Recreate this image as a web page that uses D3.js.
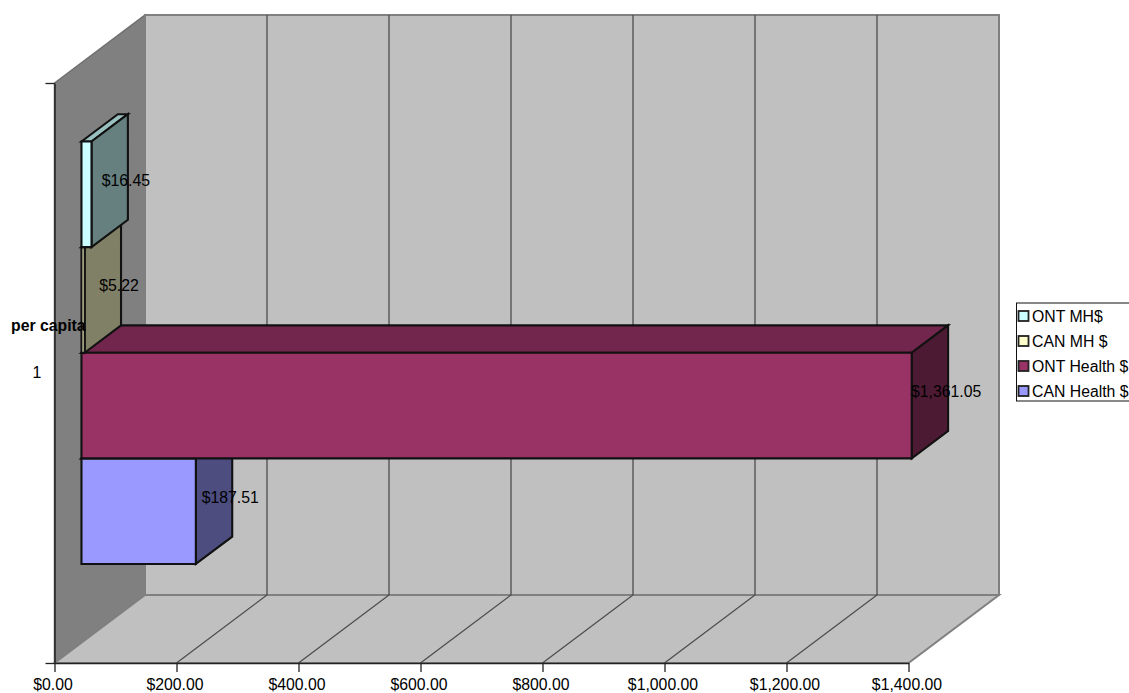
<!DOCTYPE html>
<html>
<head>
<meta charset="utf-8">
<script src="https://cdn.jsdelivr.net/npm/d3@7"></script>
<style>
body { margin: 0; background: #fff; }
svg { display: block; }
text { font-family: "Liberation Sans", Arial, sans-serif; font-size: 15.8px; fill: #000; }
</style>
</head>
<body>
<svg class="chart" width="1129" height="693"></svg>
<script>
// drawn bottom to top so the overlaps come out right
var seriesNames = ["CAN Health $", "ONT Health $", "CAN MH $", "ONT MH$"];
var seriesValues = [187.51, 1361.05, 5.22, 16.45];
var seriesLabels = ["$187.51", "$1,361.05", "$5.22", "$16.45"];
var seriesColors = ["#9999ff", "#993366", "#ffffcc", "#ccffff"];
var legendOrder = ["ONT MH$", "CAN MH $", "ONT Health $", "CAN Health $"];
var xTicks = [0, 200, 400, 600, 800, 1000, 1200, 1400];
var xTickLabels = ["$0.00", "$200.00", "$400.00", "$600.00", "$800.00", "$1,000.00", "$1,200.00", "$1,400.00"];
var categoryName = "per capita";
var categories = ["1"];

var depthX = 90.5, depthY = 68;
var floorY = 663, topY = 83;
var barStart = 0.298, barEnd = 0.7; // position of the bars in the chart depth

var svg = d3.select(".chart");

var x = d3.scaleLinear().domain([0, 1400]).range([54.5, 908.5]);
var y = d3.scaleBand().domain(seriesNames.slice().reverse()).range([topY, floorY])
	.paddingInner(0).paddingOuter(0.746);
var yAxisScale = d3.scaleLinear().domain([0, 1]).range([floorY, topY]);

var line = d3.line();
function poly(points, fill, stroke, width) {
	return svg.append("path")
		.attr("d", line(points) + "Z")
		.attr("fill", fill)
		.attr("stroke", stroke)
		.attr("stroke-width", width)
		.attr("stroke-linejoin", "miter");
}

var x0 = x(0), x1 = x(1400);

// side wall, back wall, floor
poly([[x0, floorY], [x0 + depthX, floorY - depthY], [x0 + depthX, topY - depthY], [x0, topY]], "#808080", "#6e6e6e", 1.5);
poly([[x0 + depthX, floorY - depthY], [x1 + depthX, floorY - depthY], [x1 + depthX, topY - depthY], [x0 + depthX, topY - depthY]], "#c0c0c0", "#808080", 2);
poly([[x0, floorY], [x1, floorY], [x1 + depthX, floorY - depthY], [x0 + depthX, floorY - depthY]], "#c0c0c0", "#808080", 2);

// gridlines
var gridValues = xTicks.slice(1, -1);
svg.append("g").selectAll("path").data(gridValues).join("path")
	.attr("d", function(d) {
		return line([[x(d), floorY], [x(d) + depthX, floorY - depthY], [x(d) + depthX, topY - depthY]]);
	})
	.attr("fill", "none")
	.attr("stroke", "#4d4d4d")
	.attr("stroke-width", 1.3);

// axes
var xAxis = d3.axisBottom(x)
	.tickValues(xTicks)
	.tickSize(9)
	.tickSizeOuter(0)
	.tickFormat(function(d, i) { return xTickLabels[i]; });
var xg = svg.append("g").attr("transform", "translate(0," + floorY + ")").call(xAxis);
xg.selectAll("text").attr("dy", 0).attr("x", -2).attr("y", 26.5);
xg.attr("font-size", null).attr("font-family", null);

var yAxis = d3.axisLeft(yAxisScale).tickValues([0, 1]).tickSize(9).tickSizeOuter(0).tickFormat("");
svg.append("g").attr("transform", "translate(" + x0 + ",0)").call(yAxis);
svg.selectAll(".domain").attr("stroke", "#222").attr("stroke-width", 1.5);
svg.selectAll(".tick line").attr("stroke", "#222").attr("stroke-width", 1.3);

// bars
function shade(color, k) {
	var c = d3.rgb(color);
	return d3.rgb(c.r * k, c.g * k, c.b * k).formatHex();
}

var barBaseX = x0 + barStart * depthX;
var barDX = (barEnd - barStart) * depthX;
var barDY = (barEnd - barStart) * depthY;
var shiftY = barStart * depthY;
var w = 2.1;

seriesNames.forEach(function(name, i) {
	var left = barBaseX;
	var right = barBaseX + x(seriesValues[i]) - x0;
	var top = y(name) - shiftY;
	var bottom = top + y.bandwidth();
	var color = seriesColors[i];
	poly([[left, top], [left + barDX, top - barDY], [right + barDX, top - barDY], [right, top]], shade(color, 0.75), "#111", w);
	poly([[right, top], [right + barDX, top - barDY], [right + barDX, bottom - barDY], [right, bottom]], shade(color, 0.5), "#111", w);
	poly([[left, top], [right, top], [right, bottom], [left, bottom]], color, "#111", w);
});

// value labels go on top of all the bars
seriesNames.forEach(function(name, i) {
	var right = barBaseX + x(seriesValues[i]) - x0;
	svg.append("text")
		.attr("x", right + barDX - 2)
		.attr("y", y(name) - shiftY + y.bandwidth() / 2 - barDY / 2 - 0.5)
		.attr("dy", "0.35em")
		.attr("text-anchor", "middle")
		.text(seriesLabels[i]);
});

// category labels
svg.append("text").attr("x", 11).attr("y", 331)
	.style("font-weight", "bold").text(categoryName);
svg.append("text").attr("x", 37).attr("y", 378).attr("text-anchor", "middle").text(categories[0]);

// legend
var legend = svg.append("g");
legend.append("rect")
	.attr("x", 1016.5).attr("y", 303)
	.attr("width", 130).attr("height", 98)
	.attr("fill", "#fff").attr("stroke", "#111").attr("stroke-width", 1);
var rows = legend.selectAll("g").data(legendOrder).join("g")
	.attr("transform", function(d, i) { return "translate(1018," + (316 + i * 25) + ")"; });
rows.append("rect")
	.attr("x", 0.5).attr("y", -5)
	.attr("width", 10).attr("height", 10)
	.attr("fill", function(d) { return seriesColors[seriesNames.indexOf(d)]; })
	.attr("stroke", "#222").attr("stroke-width", 1.8);
rows.append("text").attr("x", 14).attr("dy", "0.35em").text(function(d) { return d; });
</script>
</body>
</html>
